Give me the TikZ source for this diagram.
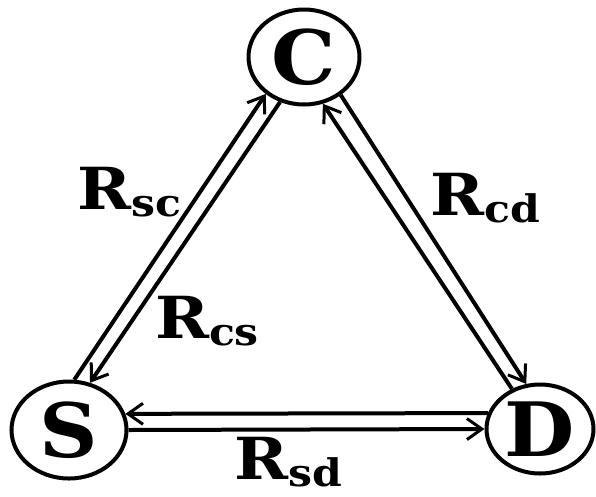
\documentclass[tikz,border=0pt]{standalone}
\usepackage{fontspec}
\setmainfont{DejaVu Serif}
\usepackage{graphicx}
\usetikzlibrary{arrows.meta,shapes.geometric}
\newcommand\rsub[1]{\scalebox{1.12}[1]{\fontsize{58}{60}\selectfont\bfseries R\raisebox{-7pt}{\fontsize{38}{40}\selectfont\bfseries #1}}}
\newcommand\stationletter[1]{\scalebox{1.08}[1]{\fontsize{75}{80}\selectfont\bfseries #1}}
\begin{document}
\begin{tikzpicture}[x=1pt,y=-1pt,line width=4pt,
  station/.style={ellipse,draw,inner sep=0pt},
  link/.style={-{Straight Barb[length=15pt,width=21pt,line width=3pt]}},
  lbl/.style={inner sep=0pt}]
\useasboundingbox (0,0) rectangle (596,496);
\node[station,minimum width=111pt,minimum height=95pt] (C) at (304,57) {\stationletter{C}};
\node[station,minimum width=115pt,minimum height=97pt] (S) at (69,430) {\stationletter{S}};
\node[station,minimum width=107pt,minimum height=89pt] (D) at (540,429) {\stationletter{D}};
\draw[link] (S.84) -- (C.224);
\draw[link] (C.242) -- (S.66);
\draw[link] (D.125) -- (C.292);
\draw[link] (C.314) -- (D.107);
\draw[link] (D.163) -- (S.16);
\draw[link] (S.0) -- (D.180);
\node[lbl] (Rsc) at (129,192) {\rsub{sc}};
\node[lbl] (Rcs) at (207,321) {\rsub{cs}};
\node[lbl] (Rcd) at (485,198) {\rsub{cd}};
\node[lbl] (Rsd) at (288,462) {\rsub{sd}};
\end{tikzpicture}
\end{document}
